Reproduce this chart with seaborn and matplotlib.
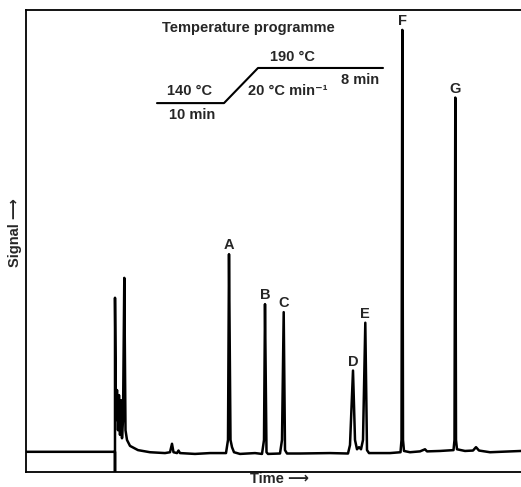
import matplotlib
matplotlib.use("Agg")
import matplotlib.pyplot as plt
import seaborn as sns
import pandas as pd

# Chromatogram trace (time in arbitrary units, signal normalised so peak F = 100)
time = [0, 8.9, 8.9, 8.9, 9.0, 9.1, 9.2, 9.3, 9.4, 9.5, 9.6, 9.7, 9.83, 9.95, 10.1,
        10.4, 11.2, 12.4, 13.9, 14.4, 14.6, 14.75, 15.1, 15.25, 15.4, 16.9, 18.4,
        20.0, 20.2, 20.3, 20.45, 20.6, 20.8, 21.4, 22.9, 23.6, 23.8, 23.9, 24.05,
        24.2, 25.4, 25.6, 25.77, 25.9, 26.1, 27.4, 30.4, 32.2, 32.4, 32.7, 32.9,
        33.1, 33.3, 33.5, 33.7, 33.93, 34.1, 34.3, 36.4, 37.45, 37.55, 37.63, 37.7,
        37.8, 38.4, 39.4, 39.9, 40.1, 41.4, 42.75, 42.85, 42.93, 43.0, 43.1, 43.9,
        44.7, 45.0, 45.3, 46.4, 49.5]
signal = [0.3, 0.3, -4.4, 36.7, 7.8, 14.9, 5.4, 13.7, 4.3, 12.5, 3.5, 7.8, 41.4, 5.4, 3.1,
          1.7, 0.7, 0.2, 0.0, 0.2, 2.2, 0.2, 0.0, 0.6, 0.0, -0.2, 0.0,
          0.0, 3.1, 47.0, 3.1, 1.4, 0.2, -0.2, 0.0, -0.2, 3.1, 35.2, 0.2,
          -0.2, -0.1, 3.1, 33.3, 0.7, -0.1, -0.1, 0.0, -0.1, 1.9, 19.5, 3.1,
          0.9, 1.4, 0.9, 3.1, 30.8, 0.7, 0.0, 0.0, 0.2, 3.1, 100.0, 3.1,
          0.5, 0.2, 0.4, 0.9, 0.4, 0.5, 0.7, 3.1, 84.0, 3.1, 0.9, 0.5,
          0.6, 1.4, 0.6, 0.2, 0.5]

# Labelled peaks
peak_names = ["A", "B", "C", "D", "E", "F", "G"]
peak_time = [20.3, 23.9, 25.77, 32.7, 33.93, 37.63, 42.93]
peak_height = [47.0, 35.2, 33.3, 19.5, 30.8, 100.0, 84.0]

# Temperature programme schematic
prog_time = [13.1, 19.8, 23.2, 35.7]
prog_level = [82.7, 82.7, 91.0, 91.0]

df = pd.DataFrame({"time": time, "signal": signal})
prog = pd.DataFrame({"time": prog_time, "level": prog_level})

sns.set_style("white")
plt.rcParams["font.family"] = ["Liberation Sans", "DejaVu Sans"]
plt.rcParams["font.weight"] = "bold"

fig = plt.figure(figsize=(5.21, 4.87), dpi=100)
ax = fig.add_axes([26 / 521, (487 - 471.7) / 487, 495 / 521, 461.7 / 487])

sns.lineplot(data=df, x="time", y="signal", sort=False, estimator=None,
             color="black", linewidth=1.8, ax=ax)
sns.lineplot(data=prog, x="time", y="level", sort=False, estimator=None,
             color="black", linewidth=1.5, ax=ax)

ax.set_xlim(0, 49.5)
ax.set_ylim(-4.4, 104.7)
ax.set_xticks([])
ax.set_yticks([])
for side in ["left", "bottom", "top"]:
    ax.spines[side].set_color("black")
    ax.spines[side].set_linewidth(1.3)
ax.spines["right"].set_visible(False)

fs = 10.5
for name, t, h in zip(peak_names, peak_time, peak_height):
    ax.annotate(name, (t, h), xytext=(0, 6.5), textcoords="offset points",
                ha="center", va="center", fontsize=fs, fontweight="bold")

ax.text(22.2, 100.5, "Temperature programme", ha="center", va="center", fontsize=fs, fontweight="bold")
ax.text(16.4, 85.6, "140 °C", ha="center", va="center", fontsize=fs, fontweight="bold")
ax.text(16.6, 79.9, "10 min", ha="center", va="center", fontsize=fs, fontweight="bold")
ax.text(26.2, 85.6, "20 °C min⁻¹", ha="center", va="center", fontsize=fs, fontweight="bold")
ax.text(26.6, 93.6, "190 °C", ha="center", va="center", fontsize=fs, fontweight="bold")
ax.text(33.4, 88.2, "8 min", ha="center", va="center", fontsize=fs, fontweight="bold")

ax.set_xlabel("Time ⟶", fontsize=fs, fontweight="bold")
ax.set_ylabel("Signal ⟶", fontsize=fs, fontweight="bold")
ax.xaxis.set_label_coords(0.513, -0.016)
ax.yaxis.set_label_coords(-0.022, 0.519)
ax.xaxis.label.set_va("center")
ax.yaxis.label.set_va("center")

fig.savefig("out.png", dpi=100)
